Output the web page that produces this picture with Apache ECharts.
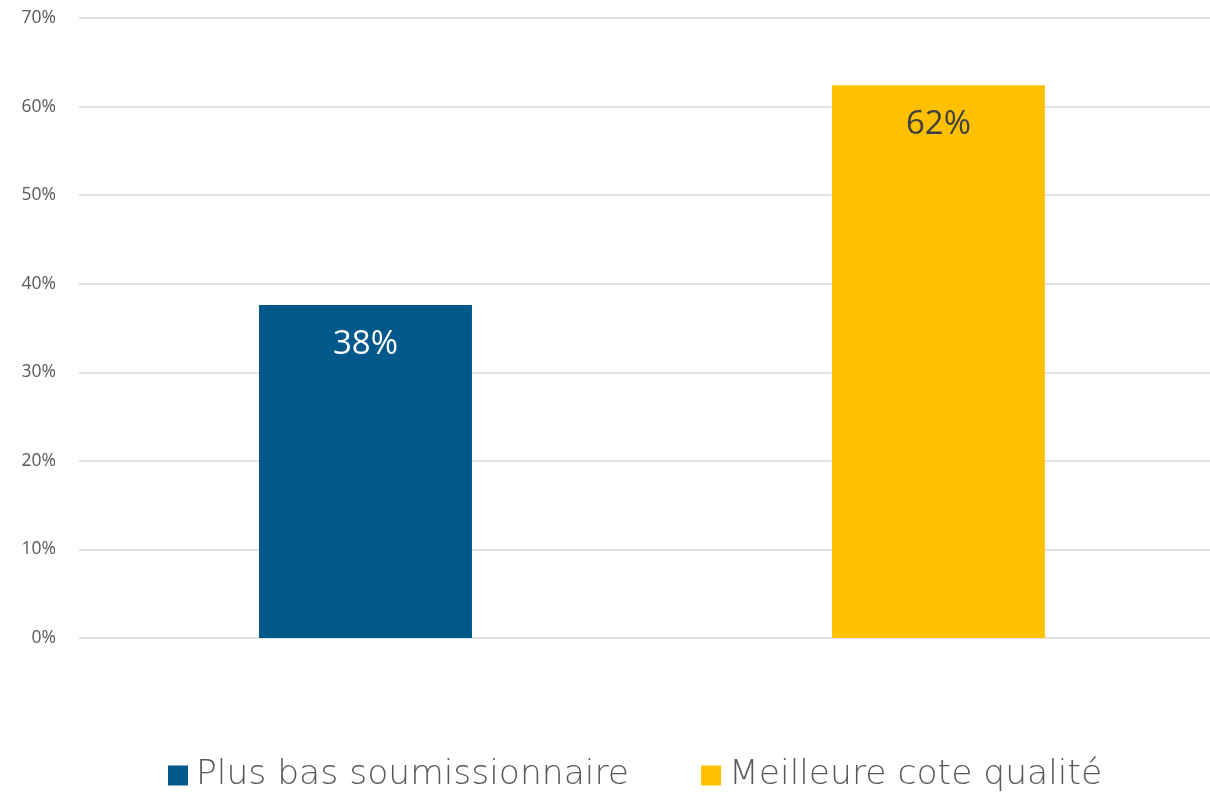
<!DOCTYPE html>
<html><head><meta charset="utf-8">
<script src="https://cdn.jsdelivr.net/npm/echarts@6/dist/echarts.min.js"></script>
<style>html,body{margin:0;padding:0;background:#fff}#c{width:1210px;height:796px}</style>
</head><body><div id="c"></div>
<script>
const seriesNames = ['Plus bas soumissionnaire', 'Meilleure cote qualité'];
const categoryPositions = [0.5, 1.5];
const values = [37.6, 62.4];
const labels = ['38%', '62%'];
const yTicks = [0, 10, 20, 30, 40, 50, 60, 70];

const colors = ['#00598A', '#FFC000'];
const labelColors = ['#FFFFFF', '#404040'];
const chart = echarts.init(document.getElementById('c'));
const series = seriesNames.map((n, i) => ({
  name: n, type: 'bar', barWidth: 213, barGap: '-100%',
  data: [[categoryPositions[i], values[i]]],
  itemStyle: { color: colors[i] },
  label: { show: true, position: 'insideTop', distance: 23, color: labelColors[i],
    fontSize: 33, fontFamily: 'Open Sans', formatter: () => labels[i] }
}));
chart.setOption({
  animation: false,
  color: colors,
  grid: { left: 79, right: 0, top: 18, height: 620 },
  xAxis: { type: 'value', min: 0, max: 1.974, axisLine: { show: false }, axisTick: { show: false },
    axisLabel: { show: false }, splitLine: { show: false } },
  yAxis: { type: 'value', min: yTicks[0], max: yTicks[yTicks.length - 1], interval: 10,
    axisLabel: { formatter: v => v + '%', color: '#595959', fontSize: 17.5, fontFamily: 'Open Sans', margin: 23 },
    splitLine: { lineStyle: { color: '#D9D9D9', width: 1.5 } }, axisLine: { show: false }, axisTick: { show: false } },
  legend: { top: 753, left: 163, itemWidth: 20, itemHeight: 20, itemGap: 72, icon: 'rect',
    textStyle: { color: '#595959', fontSize: 34.5, fontFamily: 'DejaVu Sans', fontWeight: 200, padding: [0, 0, 0, 3] } },
  series
});
</script></body></html>
